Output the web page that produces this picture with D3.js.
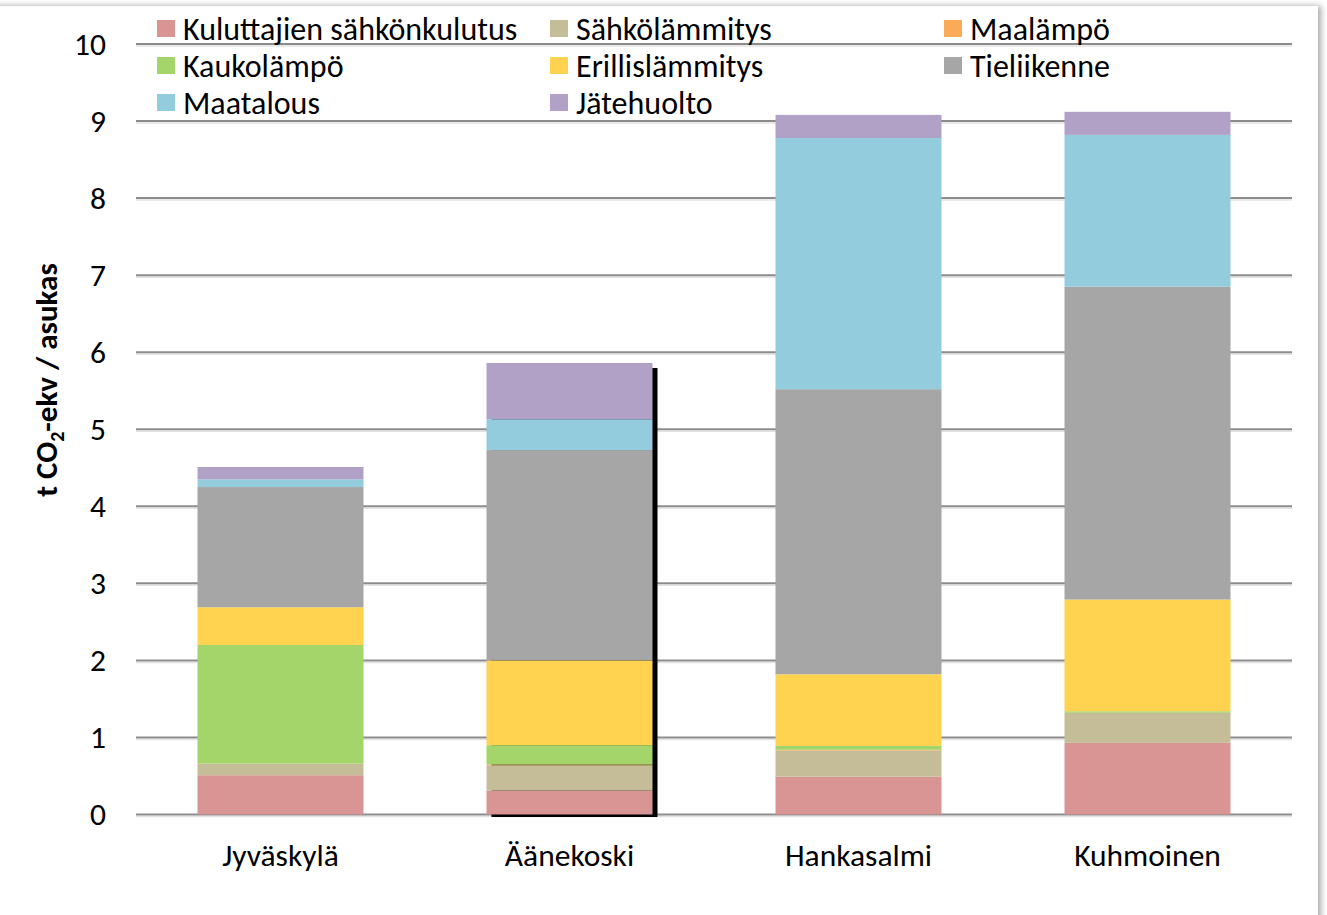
<!DOCTYPE html>
<html>
<head>
<meta charset="utf-8">
<script src="https://cdn.jsdelivr.net/npm/d3@7"></script>
<style>
  body { margin: 0; background: #fff; }
  text { font-family: Carlito, Calibri, "Open Sans", sans-serif; fill: #000; }
</style>
</head>
<body>
<div id="chart"></div>
<script>
// kunnat
const categories = ['Jyväskylä', 'Äänekoski', 'Hankasalmi', 'Kuhmoinen'];

// päästölähteet (t CO2-ekv / asukas), luettu kuvasta
const series = ['Kuluttajien sähkönkulutus', 'Sähkölämmitys', 'Maalämpö', 'Kaukolämpö',
  'Erillislämmitys', 'Tieliikenne', 'Maatalous', 'Jätehuolto'];
const kulutus    = [0.51, 0.31, 0.49, 0.93];
const sahkolammi = [0.15, 0.33, 0.34, 0.39];
const maalampo   = [0.00, 0.01, 0.01, 0.00];
const kaukolampo = [1.54, 0.25, 0.05, 0.02];
const erillis    = [0.49, 1.10, 0.93, 1.45];
const tieliikenne = [1.56, 2.73, 3.70, 4.06];
const maatalous  = [0.10, 0.40, 3.26, 1.97];
const jatehuolto = [0.16, 0.73, 0.30, 0.30];

const yTicks = [0, 1, 2, 3, 4, 5, 6, 7, 8, 9, 10];
const colors = ['#d99594', '#c4bd97', '#f9ab58', '#a3d56b', '#ffd34f', '#a6a6a6', '#93cddd', '#b2a1c7'];

const values = [kulutus, sahkolammi, maalampo, kaukolampo, erillis, tieliikenne, maatalous, jatehuolto];
const table = categories.map((c, i) => {
  const row = {kunta: c};
  series.forEach((s, j) => row[s] = values[j][i]);
  return row;
});

const W = 1327, H = 915;
const svg = d3.select('#chart').append('svg')
  .attr('width', W).attr('height', H);

// kehys varjolla
const defs = svg.append('defs');
defs.append('filter').attr('id', 'shadow')
  .attr('x', '-5%').attr('y', '-5%').attr('width', '110%').attr('height', '110%')
  .append('feDropShadow')
  .attr('dx', 3).attr('dy', 0).attr('stdDeviation', 3)
  .attr('flood-color', '#000').attr('flood-opacity', 0.35);
svg.append('rect')
  .attr('x', -20).attr('y', 6).attr('width', 1338).attr('height', 1000)
  .attr('fill', '#fff').attr('filter', 'url(#shadow)');

const x = d3.scaleBand()
  .domain(categories)
  .range([136, 1292])
  .paddingInner(0.4256)
  .paddingOuter(0.2128);

const y = d3.scaleLinear()
  .domain([0, 10])
  .range([814.5, 44]);

// ruudukko
const grid = svg.append('g');
grid.selectAll('line.shade')
  .data(yTicks)
  .enter()
  .append('line')
  .attr('class', 'shade')
  .attr('x1', 136).attr('x2', 1292)
  .attr('y1', d => y(d) + 2).attr('y2', d => y(d) + 2)
  .attr('stroke', '#e3e3e3').attr('stroke-width', 1.5);
grid.selectAll('line.main')
  .data(yTicks)
  .enter()
  .append('line')
  .attr('class', 'main')
  .attr('x1', 136).attr('x2', 1292)
  .attr('y1', d => y(d)).attr('y2', d => y(d))
  .attr('stroke', '#8c8c8c').attr('stroke-width', 2);

// y-akseli
const yAxis = svg.append('g')
  .attr('transform', 'translate(106,0)')
  .call(d3.axisLeft(y).tickValues(yTicks).tickSize(0).tickPadding(0));
yAxis.select('.domain').remove();
yAxis.selectAll('text')
  .style('font-size', '31.5px')
  .attr('dy', '0.33em');

// pinotut pylväät
const stack = d3.stack().keys(series);
const stacked = stack(table);

// musta varjo Äänekosken pylvään takana
const shadowIdx = categories.indexOf('Äänekoski');
const shadowTop = stacked[stacked.length - 1][shadowIdx][1];
svg.append('rect')
  .attr('x', x('Äänekoski') + 5)
  .attr('y', y(shadowTop) + 5)
  .attr('width', x.bandwidth())
  .attr('height', y(0) + 2.5 - y(shadowTop) - 5)
  .attr('fill', '#000');

svg.append('g')
  .selectAll('g')
  .data(stacked)
  .enter()
  .append('g')
  .attr('fill', (d, i) => colors[i])
  .selectAll('rect')
  .data(d => d)
  .enter()
  .append('rect')
  .attr('x', d => x(d.data.kunta))
  .attr('y', d => y(d[1]))
  .attr('width', x.bandwidth())
  .attr('height', d => y(d[0]) - y(d[1]));

// x-akseli
const xAxis = svg.append('g')
  .attr('transform', 'translate(0,866)')
  .call(d3.axisBottom(x).tickSize(0).tickPadding(0));
xAxis.select('.domain').remove();
xAxis.selectAll('text')
  .style('font-size', '31.5px')
  .attr('y', 0)
  .attr('dy', 0);

// y-akselin otsikko
const title = svg.append('text')
  .attr('transform', 'translate(57,380) rotate(-90)')
  .attr('text-anchor', 'middle')
  .style('font-size', '31px')
  .style('font-weight', 'bold');
title.append('tspan').text('t CO');
title.append('tspan').text('2').style('font-size', '20px').attr('dy', 7);
title.append('tspan').text('-ekv / asukas').attr('dy', -7);

// selite
const legX = [157, 550, 944];
const legY = [20, 57, 94];
const legend = svg.append('g')
  .selectAll('g')
  .data(series)
  .enter()
  .append('g')
  .attr('transform', (d, i) => `translate(${legX[i % 3]},${legY[Math.floor(i / 3)]})`);
legend.append('rect')
  .attr('width', 18).attr('height', 17)
  .attr('fill', (d, i) => colors[i]);
legend.append('text')
  .attr('x', 26).attr('y', 19.5)
  .style('font-size', '32px')
  .text(d => d);
</script>
</body>
</html>
